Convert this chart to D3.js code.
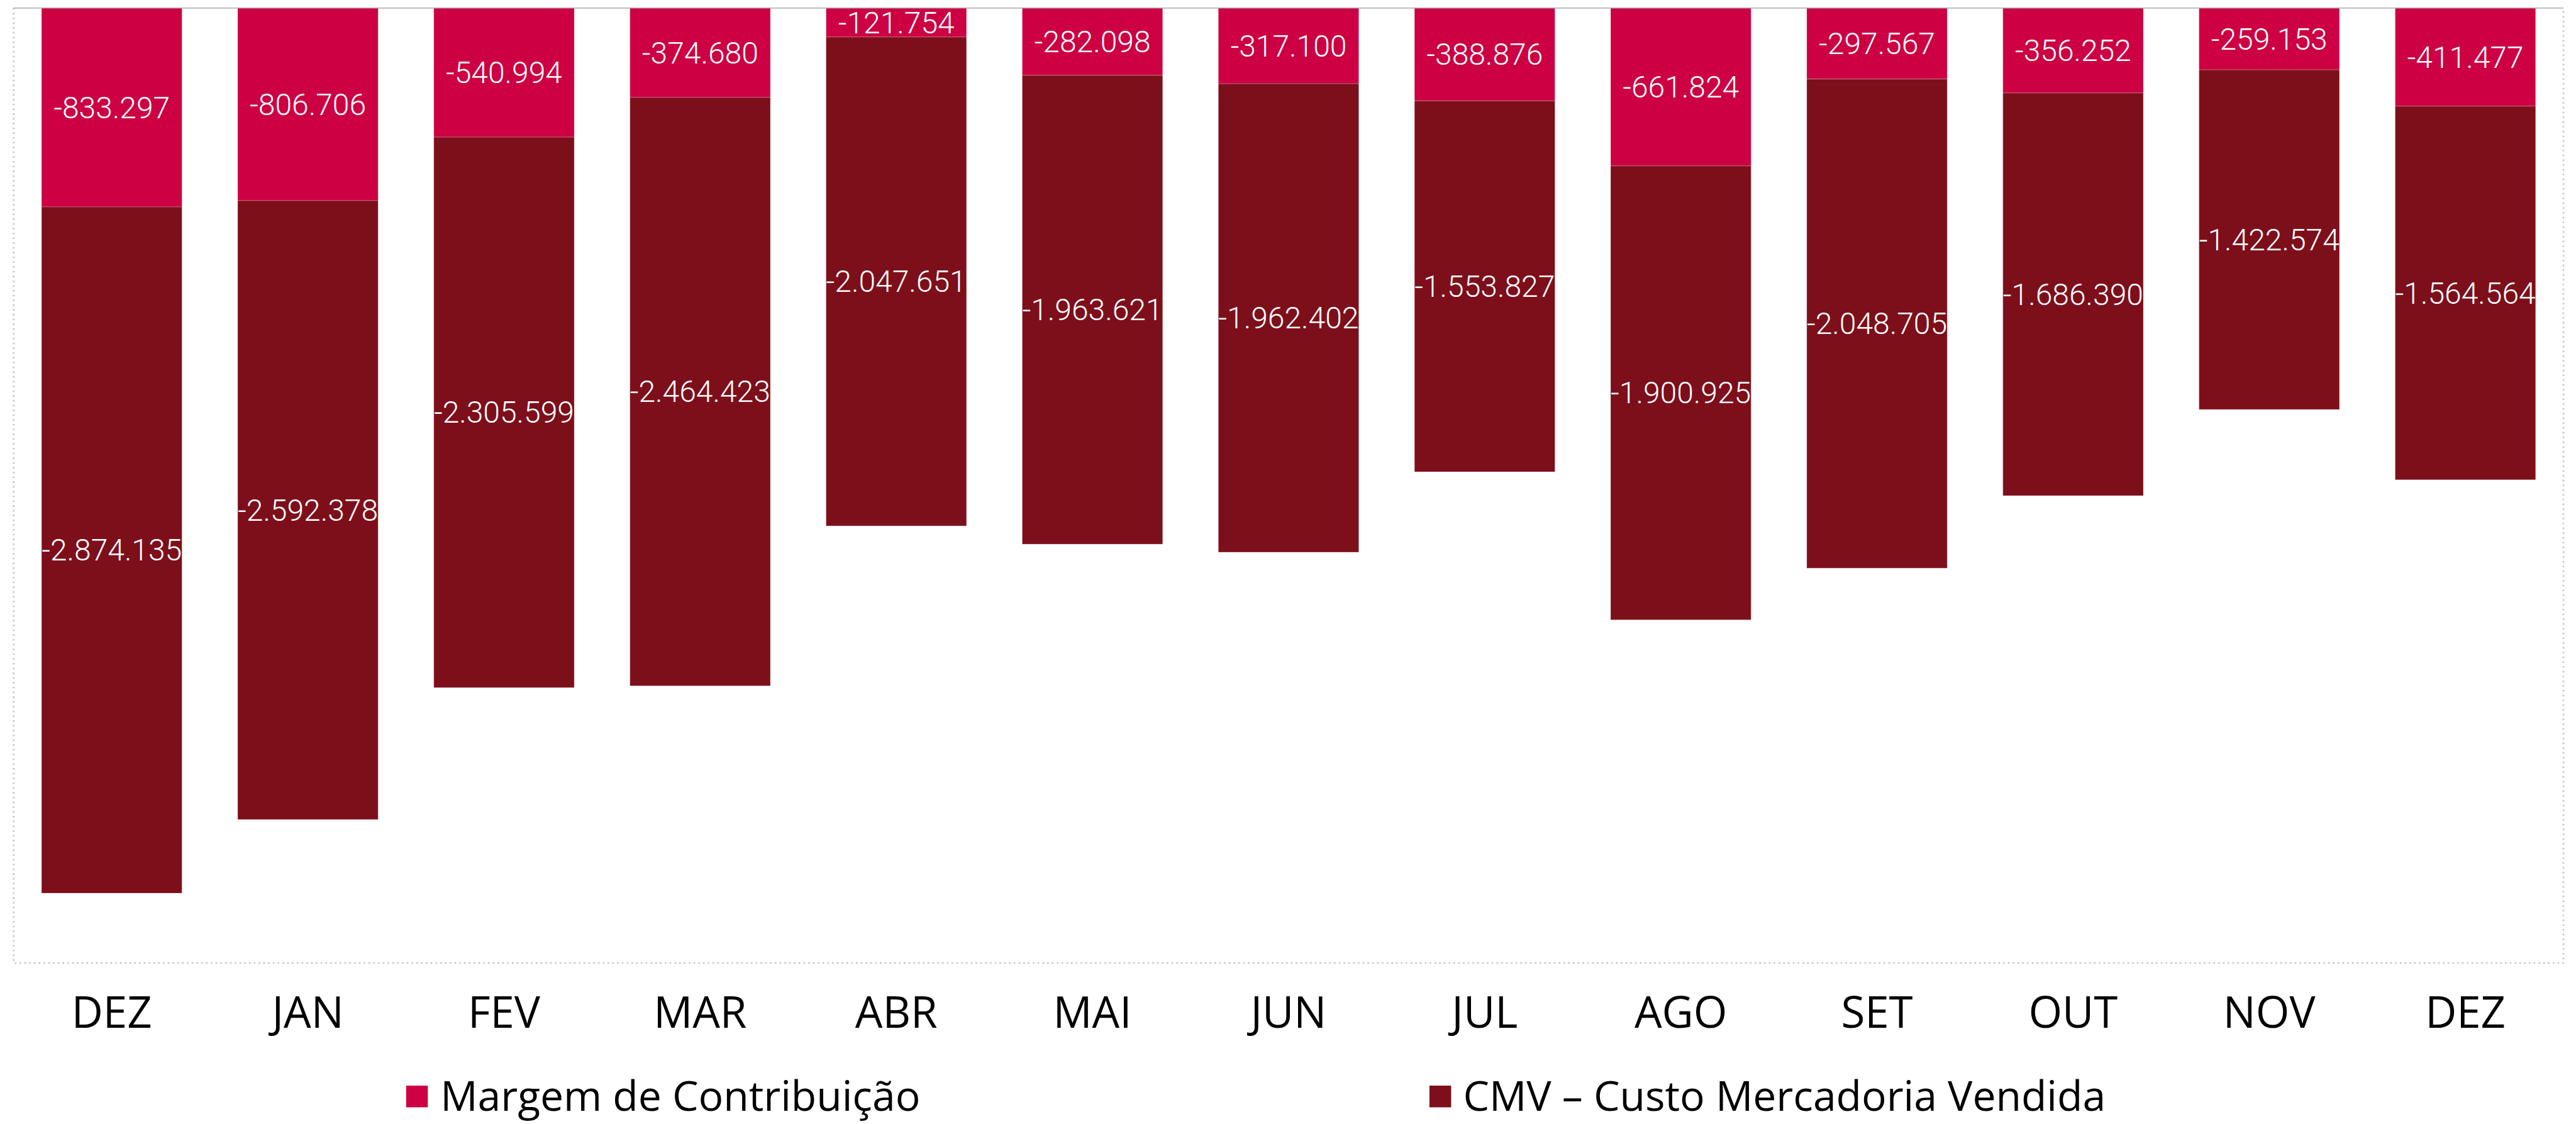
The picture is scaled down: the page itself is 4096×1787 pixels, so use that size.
<!DOCTYPE html>
<html>
<head>
<meta charset="utf-8">
<script src="https://cdn.jsdelivr.net/npm/d3@7"></script>
<style>
  html, body { margin: 0; padding: 0; background: #ffffff; }
  svg { display: block; }
</style>
</head>
<body>
<script>
// ---- data ----
const categories = ["DEZ", "JAN", "FEV", "MAR", "ABR", "MAI", "JUN", "JUL", "AGO", "SET", "OUT", "NOV", "DEZ"];
const margem = [-833297, -806706, -540994, -374680, -121754, -282098, -317100, -388876, -661824, -297567, -356252, -259153, -411477];
const cmv = [-2874135, -2592378, -2305599, -2464423, -2047651, -1963621, -1962402, -1553827, -1900925, -2048705, -1686390, -1422574, -1564564];
const seriesNames = ["Margem de Contribuição", "CMV – Custo Mercadoria Vendida"];
const yDomain = [-4000000, 0];

// ---- layout ----
const W = 4096, H = 1787;
const s = 4096 / 4516;
const plot = { left: 24 * s, right: 4494 * s, top: 14 * s, bottom: 1688 * s };
const colors = ["#CC0042", "#7D0F1B"];

const svg = d3.select("body").append("svg").attr("width", W).attr("height", H);

const idx = categories.map((d, i) => i);
const x = d3.scaleBand().domain(idx).range([plot.left, plot.right]).paddingInner(0.284).paddingOuter(0.142);
const y = d3.scaleLinear().domain(yDomain).range([plot.bottom, plot.top]);

const fmt = d3.formatLocale({ decimal: ",", thousands: ".", grouping: [3], currency: ["", ""], minus: "-" }).format(",.0f");

// plot border (dotted)
const border = svg.append("g");
border.append("path")
  .attr("d", `M${plot.left},${plot.top}V${plot.bottom}H${plot.right}V${plot.top}`)
  .attr("fill", "none").attr("stroke", "#c4c4c4").attr("stroke-width", 2.6)
  .attr("stroke-dasharray", "2.6,5");

// stacked data
const rows = idx.map(i => ({ i, m: margem[i], c: cmv[i] }));

const bars = svg.append("g");
// margem segments
bars.selectAll("rect.m").data(rows).join("rect").attr("class", "m")
  .attr("x", d => x(d.i)).attr("width", x.bandwidth())
  .attr("y", d => y(0)).attr("height", d => y(d.m) - y(0))
  .attr("fill", colors[0])
  .attr("stroke", "rgba(255,255,255,0.25)").attr("stroke-width", 1);
// cmv segments
bars.selectAll("rect.c").data(rows).join("rect").attr("class", "c")
  .attr("x", d => x(d.i)).attr("width", x.bandwidth())
  .attr("y", d => y(d.m)).attr("height", d => y(d.m + d.c) - y(d.m))
  .attr("fill", colors[1])
  .attr("stroke", "rgba(255,255,255,0.25)").attr("stroke-width", 1);

// zero / top line
svg.append("line")
  .attr("x1", plot.left).attr("x2", plot.right)
  .attr("y1", y(0)).attr("y2", y(0))
  .attr("stroke", "#a8a8a8").attr("stroke-width", 1.6);

// data labels
const lbl = svg.append("g")
  .attr("font-family", "Roboto, 'Open Sans', sans-serif")
  .attr("font-weight", 300)
  .attr("font-size", 48)
  .attr("fill", "#ffffff")
  .attr("text-anchor", "middle");
lbl.selectAll("text.m").data(rows).join("text").attr("class", "m")
  .attr("x", d => x(d.i) + x.bandwidth() / 2)
  .attr("y", d => (y(0) + y(d.m)) / 2)
  .attr("dy", "0.35em")
  .text(d => fmt(d.m));
lbl.selectAll("text.c").data(rows).join("text").attr("class", "c")
  .attr("x", d => x(d.i) + x.bandwidth() / 2)
  .attr("y", d => (y(d.m) + y(d.m + d.c)) / 2)
  .attr("dy", "0.35em")
  .text(d => fmt(d.c));

// x axis labels
const xAxis = d3.axisBottom(x).tickSize(0).tickPadding(0).tickFormat(i => categories[i]);
const gx = svg.append("g").attr("transform", `translate(0,${1801 * s})`).call(xAxis);
gx.select(".domain").remove();
gx.selectAll("text")
  .attr("dy", 0).attr("y", 0)
  .attr("font-family", "'Open Sans', 'Noto Sans', sans-serif")
  .attr("font-size", 69)
  .attr("fill", "#000000");

// legend
const legendItems = [
  { name: seriesNames[0], color: colors[0], mx: 712 * s, tx: 772 * s },
  { name: seriesNames[1], color: colors[1], mx: 2506 * s, tx: 2565 * s }
];
const legendBase = 1766;
const lg = svg.append("g");
lg.selectAll("rect").data(legendItems).join("rect")
  .attr("x", d => d.mx).attr("y", legendBase - 40)
  .attr("width", 38 * s).attr("height", 38 * s)
  .attr("fill", d => d.color);
lg.selectAll("text").data(legendItems).join("text")
  .attr("x", d => d.tx).attr("y", legendBase)
  .attr("font-family", "'Open Sans', 'Noto Sans', sans-serif")
  .attr("font-size", 66)
  .attr("fill", "#000000")
  .text(d => d.name);
</script>
</body>
</html>
